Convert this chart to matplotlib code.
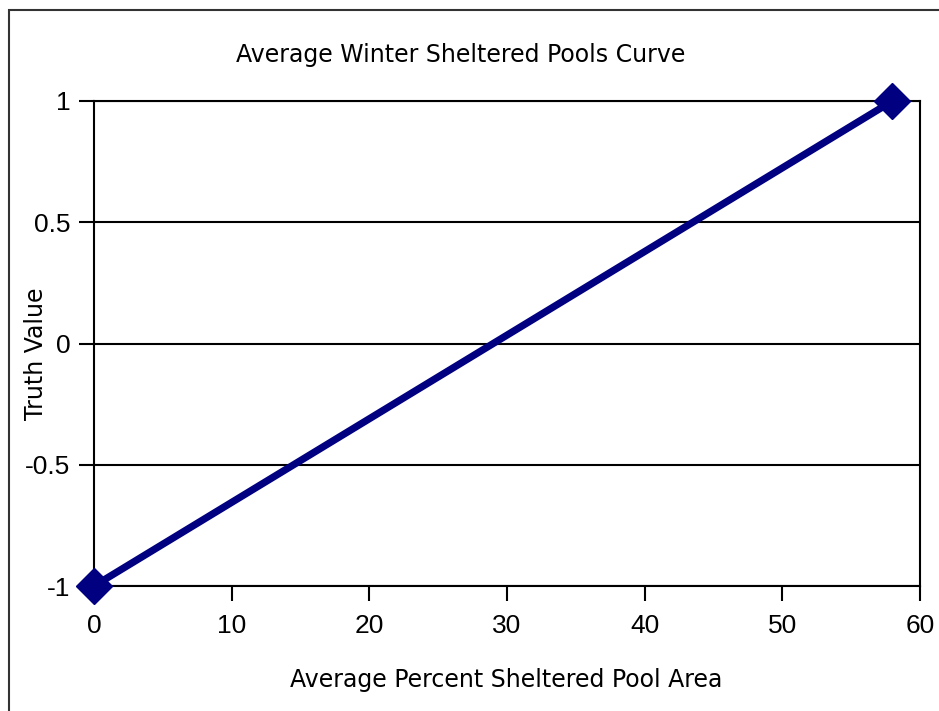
import matplotlib
matplotlib.use("Agg")
import matplotlib.pyplot as plt
from matplotlib.patches import Rectangle
from matplotlib import font_manager

# Data: endpoints of the sheltered-pool truth-value curve
percent_area = [0, 58]
truth_value = [-1, 1]
x_ticks = [0, 10, 20, 30, 40, 50, 60]
y_ticks = [-1, -0.5, 0, 0.5, 1]

names = {f.name for f in font_manager.fontManager.ttflist}
narrow = "Liberation Sans Narrow" if "Liberation Sans Narrow" in names else "DejaVu Sans Condensed"

fig = plt.figure(figsize=(9.39, 7.11), dpi=100)
W, H = 939, 711
ax = fig.add_axes([94 / W, 1 - 586 / H, (920 - 94) / W, (586 - 101) / H])

# outer chart border
fig.patches.append(Rectangle((9 / W, -0.1), 1.2, 1 - 10 / H + 0.1,
                             transform=fig.transFigure, fill=False,
                             edgecolor="#333333", linewidth=1.5))

ax.plot(percent_area, truth_value, color="#000080", linewidth=5.2,
        marker="D", markersize=18, markerfacecolor="#000080",
        markeredgecolor="#000080", clip_on=False, zorder=5)

ax.set_xlim(0, 60)
ax.set_ylim(-1, 1)
ax.set_xticks(x_ticks)
ax.set_yticks(y_ticks)
ax.set_yticklabels([f"{v:g}" for v in y_ticks])
ax.grid(axis="y", color="black", linewidth=1.5)
for s in ax.spines.values():
    s.set_linewidth(1.5)
    s.set_color("black")
ax.tick_params(axis="both", direction="out", length=11, width=1.5,
               labelsize=19, colors="black")
ax.tick_params(axis="y", pad=6)
ax.tick_params(axis="x", pad=9)
for lbl in ax.get_xticklabels() + ax.get_yticklabels():
    lbl.set_family("Liberation Sans")

ax.set_xlabel("Average Percent Sheltered Pool Area", fontsize=17,
              family=narrow)
ax.xaxis.set_label_coords((506 - 94) / (920 - 94), -(680 - 586) / (586 - 101))
ax.xaxis.label.set_va("center")
ax.set_ylabel("Truth Value", fontsize=17, family=narrow)
ax.yaxis.set_label_coords(-(94 - 36) / (920 - 94), (586 - 354) / (586 - 101))
ax.yaxis.label.set_va("center")
fig.text(461 / W, 1 - 55 / H, "Average Winter Sheltered Pools Curve",
         ha="center", va="center", fontsize=17, family=narrow)

fig.savefig("out.png", dpi=100)
